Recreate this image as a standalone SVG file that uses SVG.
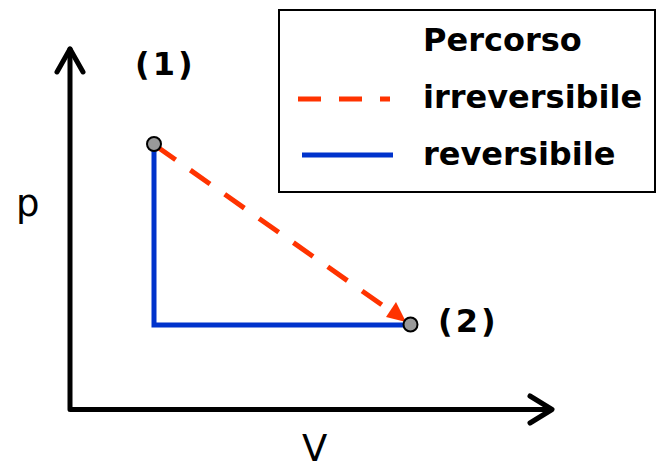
<svg xmlns="http://www.w3.org/2000/svg" width="660" height="464" viewBox="0 0 660 464">
<style>
.lbl{font-family:"DejaVu Sans",Verdana,sans-serif;font-weight:bold;font-size:32px;fill:#000}
.pl{letter-spacing:3px}
.ax{font-family:"DejaVu Sans",Verdana,sans-serif;font-size:37px;fill:#000}
.axis{stroke:#000;stroke-width:5;fill:none;stroke-linecap:round;stroke-linejoin:round}
.rev{stroke:#0033cc;stroke-width:5;fill:none}
.irr{stroke:#ff3300;stroke-width:5;fill:none;stroke-dasharray:24 18}
.pt{fill:#999;stroke:#000;stroke-width:2}
</style>
<g id="axes">
<path class="axis" d="M70,49 V409.5 H551"/>
<path class="axis" d="M57,72 L70,49 L83,72"/>
<path class="axis" d="M530,396 L552,409.5 L530,423"/>
<text class="ax" x="16" y="216">p</text>
<text class="ax" x="302" y="461">V</text>
</g>
<g id="connectors">
<path class="rev" d="M154,144 V325 H410"/>
<line class="irr" x1="156" y1="146" x2="392" y2="312"/>
<polygon points="406,322 386,317 396,302" fill="#ff3300"/>
</g>
<g id="node1">
<circle class="pt" cx="154" cy="144" r="7"/>
<text class="lbl pl" x="135" y="75">(1)</text>
</g>
<g id="node2">
<circle class="pt" cx="410.5" cy="324.5" r="7"/>
<text class="lbl pl" x="438" y="332">(2)</text>
</g>
<g id="legend">
<rect x="279" y="10" width="376" height="182" fill="#fff" stroke="#000" stroke-width="2"/>
<text class="lbl" x="423" y="51">Percorso</text>
<text class="lbl" x="423" y="108">irreversibile</text>
<text class="lbl" x="423" y="165">reversibile</text>
<line x1="298" y1="99" x2="390" y2="99" stroke="#ff3300" stroke-width="5" stroke-dasharray="23 18"/>
<line x1="302" y1="155" x2="393" y2="155" stroke="#0033cc" stroke-width="5"/>
</g>
</svg>
